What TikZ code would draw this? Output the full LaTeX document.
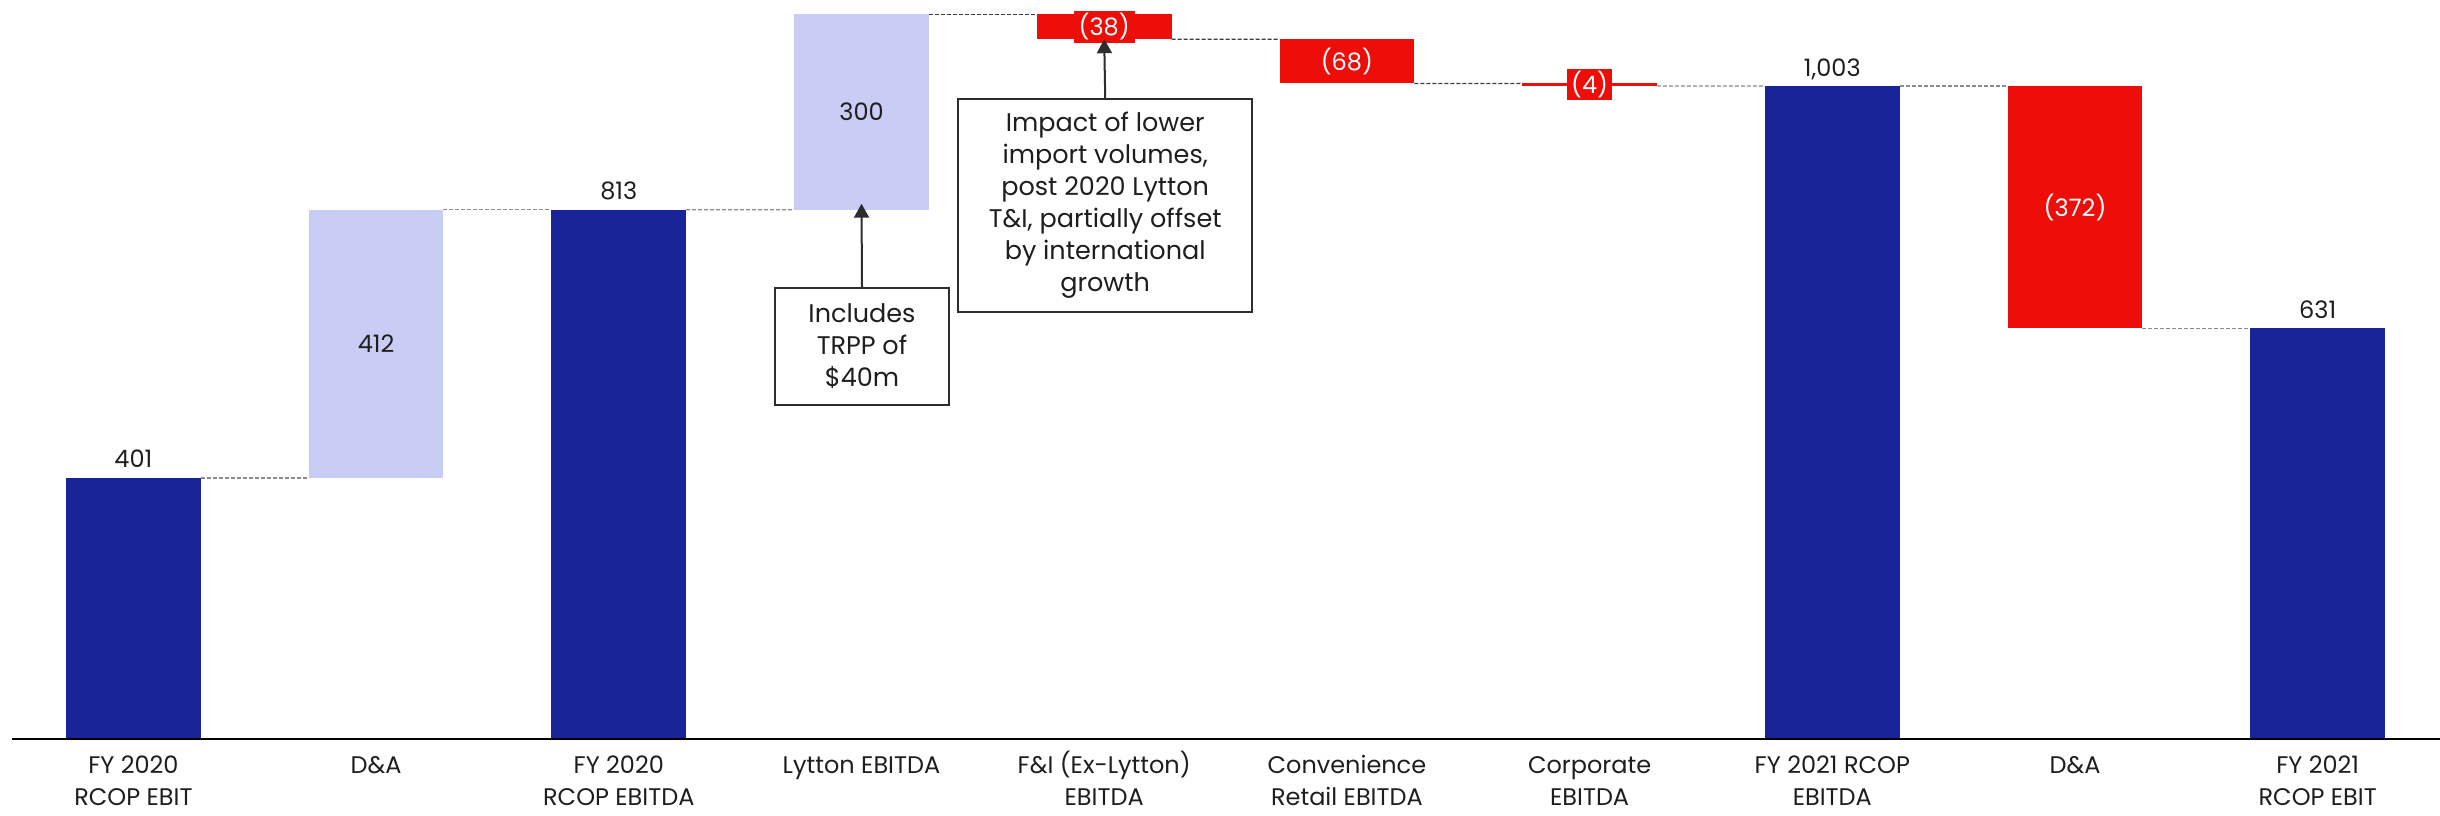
\documentclass[tikz,border=0pt]{standalone}
\usepackage{fontspec}
\setmainfont{Poppins}
\usetikzlibrary{arrows.meta}
\definecolor{navy}{RGB}{25,36,152}
\definecolor{lav}{RGB}{201,204,245}
\definecolor{redb}{RGB}{237,14,10}
\definecolor{txt}{RGB}{30,30,30}
\definecolor{dgray}{RGB}{140,140,140}
\definecolor{ddark}{RGB}{60,60,60}
\definecolor{boxc}{RGB}{45,45,45}
\begin{document}
\begin{tikzpicture}[x=1pt,y=-1pt,
  font=\fontsize{24}{32}\selectfont, text=txt,
  bar/.style={rectangle, inner sep=0pt, outer sep=0pt, minimum width=134.7pt, anchor=north},
  navybar/.style={bar, fill=navy},
  lavbar/.style={bar, fill=lav, text=txt},
  redbar/.style={bar, fill=redb, text=white},
  redlab/.style={rectangle, fill=redb, text=white, inner sep=0pt},
  val/.style={anchor=base},
  cat/.style={anchor=base, align=center},
  conn/.style={draw=dgray, line width=1.3pt, dash pattern=on 4pt off 2pt},
  connd/.style={draw=ddark, line width=1.3pt, dash pattern=on 4pt off 2pt},
  callout/.style={draw=boxc, line width=2pt, fill=white, align=center, inner sep=0pt,
    font=\fontsize{25.5}{32}\selectfont},
  pointer/.style={draw=boxc, line width=2pt, -{Triangle[width=15pt,length=14pt]}}
]
\useasboundingbox (0,0) rectangle (2440,815);
% bars
\node[navybar, minimum height=261.05pt] (b1) at (133.4,477.95) {};
\node[lavbar, minimum height=268.25pt] (b2) at (376.1,209.7) {412};
\node[navybar, minimum height=529.3pt] (b3) at (618.8,209.7) {};
\node[lavbar, minimum height=195.3pt] (b4) at (861.5,14.4) {300};
\node[redbar, minimum height=24.8pt] (b5) at (1104.2,14.4) {};
\node[redbar, minimum height=44.2pt] (b6) at (1346.9,39.2) {(68)};
\node[redbar, minimum height=2.65pt] (b7) at (1589.6,83.4) {};
\node[navybar, minimum height=652.95pt] (b8) at (1832.3,86.05) {};
\node[redbar, minimum height=242.15pt] (b9) at (2075.0,86.05) {(372)};
\node[navybar, minimum height=410.8pt] (b10) at (2317.7,328.2) {};
% red labels on thin bars
\node[redlab, minimum width=61pt, minimum height=31.7pt] (l5) at (b5.center) {(38)};
\node[redlab, minimum width=44.6pt, minimum height=31pt] (l7) at (b7.center) {(4)};
% value labels
\node[val] (v1) at ([yshift=10pt]b1.north) {401};
\node[val] (v3) at ([yshift=10pt]b3.north) {813};
\node[val] (v8) at ([yshift=10pt]b8.north) {1,003};
\node[val] (v10) at ([yshift=10pt]b10.north) {631};
% connectors
\draw[conn] (b1.north east) -- (b2.south west);
\draw[conn] (b2.north east) -- (b3.north west);
\draw[conn] (b3.north east) -- (b4.south west);
\draw[connd] (b4.north east) -- (b5.north west);
\draw[connd] (b5.south east) -- (b6.north west);
\draw[connd] (b6.south east) -- (b7.north west);
\draw[conn] (b7.south east) -- (b8.north west);
\draw[conn] (b8.north east) -- (b9.north west);
\draw[conn] (b9.south east) -- (b10.north west);
% axis
\coordinate (axL) at (12,739);
\coordinate (axR) at (2440,739);
\draw[line width=2pt, black] (axL) -- (axR);
% category labels (base anchor = last line's baseline)
\node[cat] (c1) at (133.4,805) {FY 2020\\RCOP EBIT};
\node[cat] (c2) at (376.1,773) {D\&A};
\node[cat] (c3) at (618.8,805) {FY 2020\\RCOP EBITDA};
\node[cat] (c4) at (861.5,773) {Lytton EBITDA};
\node[cat] (c5) at (1104.2,805) {F\&I (Ex-Lytton)\\EBITDA};
\node[cat] (c6) at (1346.9,805) {Convenience\\Retail EBITDA};
\node[cat] (c7) at (1589.6,805) {Corporate\\EBITDA};
\node[cat] (c8) at (1832.3,805) {FY 2021 RCOP\\EBITDA};
\node[cat] (c9) at (2075.0,773) {D\&A};
\node[cat] (c10) at (2317.7,805) {FY 2021\\RCOP EBIT};
% callouts
\node[callout, minimum width=174pt, minimum height=117pt] (n1) at (862,346.5) {Includes\\TRPP of\\\$40m};
\node[callout, minimum width=293.5pt, minimum height=213pt] (n2) at (1105.2,205.3) {Impact of lower\\import volumes,\\post 2020 Lytton\\T\&I, partially offset\\by international\\growth};
\draw[pointer] (n1.north) -- ([yshift=6pt]b4.south);
\draw[pointer] (n2.north) -- (b5.south);
\end{tikzpicture}
\end{document}
